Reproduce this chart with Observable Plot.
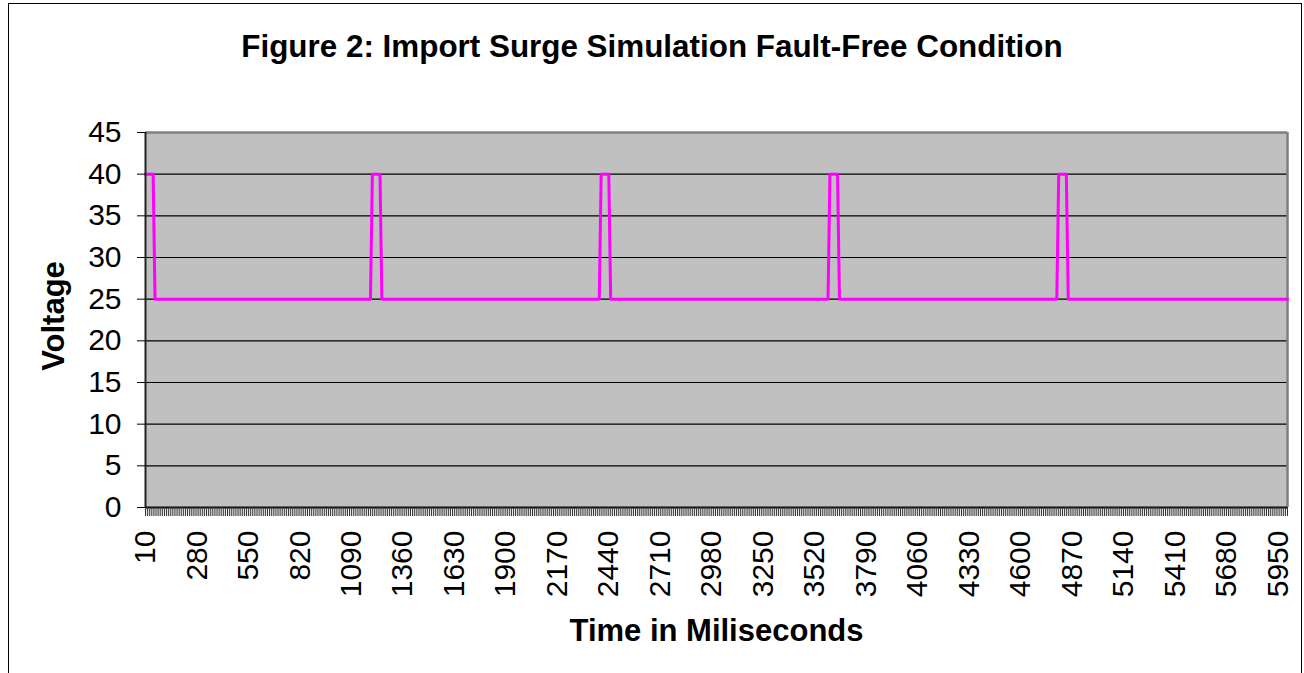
<!DOCTYPE html>
<html>
<head>
<meta charset="utf-8">
<script src="https://cdn.jsdelivr.net/npm/d3@7"></script>
<script src="https://cdn.jsdelivr.net/npm/@observablehq/plot@0.6"></script>
<style>
  html, body { margin: 0; padding: 0; background: #fff; overflow: hidden; width: 1304px; height: 673px; }
  body { position: relative; font-family: "Liberation Sans", Arial, sans-serif; }
  #frame { position: absolute; left: 8px; top: 3px; width: 1294px; height: 800px; box-sizing: border-box; border: 1.5px solid #000; }
  #title { position: absolute; left: 0; top: 29px; width: 1304px; text-align: center; font-weight: bold; font-size: 31.4px; line-height: 36px; color: #000; }
  #chart { position: absolute; left: 0; top: 90px; }
  #chart g[aria-label="x-axis label"] text { font-weight: bold; }
</style>
</head>
<body>
<div id="frame"></div>
<div id="title">Figure 2: Import Surge Simulation Fault-Free Condition</div>
<div id="chart"></div>
<script>
// Time categories (ms), one sample every 10 ms
const times = d3.range(10, 6010, 10);
// Voltage series: value and number of samples
const runValues  = [40, 25, 40, 25, 40, 25, 40, 25, 40, 25];
const runLengths = [5, 114, 5, 115, 5, 115, 5, 115, 5, 116];
// Axis ticks
const xTickLabels = [10, 280, 550, 820, 1090, 1360, 1630, 1900, 2170, 2440, 2710, 2980, 3250, 3520, 3790, 4060, 4330, 4600, 4870, 5140, 5410, 5680, 5950];
const yTicks = [0, 5, 10, 15, 20, 25, 30, 35, 40, 45];
const gridLines = [5, 10, 15, 20, 25, 30, 35, 40];

const voltages = runValues.flatMap((v, i) => Array(runLengths[i]).fill(v));
const data = times.map((t, i) => ({t, v: voltages[i]}));

const chart = Plot.plot({
  width: 1304,
  height: 583,
  marginLeft: 145,
  marginRight: 17,
  marginTop: 42,
  marginBottom: 166,
  style: {fontFamily: '"Liberation Sans", Arial, sans-serif', fontSize: "30px", color: "#000", background: "transparent", overflow: "visible"},
  x: {domain: [times[0], times[times.length - 1]]},
  y: {domain: [0, 45]},
  marks: [
    Plot.frame({fill: "#c0c0c0", stroke: null}),
    Plot.ruleY(gridLines, {stroke: "#000", strokeWidth: 1.2}),
    Plot.ruleY([45], {stroke: "#808080", strokeWidth: 2.5}),
    Plot.ruleX([times[times.length - 1]], {stroke: "#808080", strokeWidth: 2.5}),
    Plot.line(data, {x: "t", y: "v", stroke: "#ff00ff", strokeWidth: 3}),
    Plot.ruleX([times[0]], {stroke: "#222", strokeWidth: 2}),
    Plot.ruleY([0], {stroke: "#000", strokeWidth: 2}),
    Plot.axisY({ticks: yTicks, tickSize: 8, tickPadding: 16, tickFormat: d => String(d), label: null, fontSize: 30}),
    Plot.text(["Voltage"], {frameAnchor: "left", textAnchor: "middle", rotate: -90, dx: -91, dy: -4, fontSize: 31, fontWeight: "bold", fill: "#000", lineAnchor: "middle"}),
    Plot.axisX({ticks: times, tickSize: 9, tickFormat: () => "", label: null, stroke: "#333"}),
    Plot.axisX({ticks: xTickLabels, tickSize: 0, tickPadding: 23, tickRotate: -90, tickFormat: d => String(d),
      label: "Time in Miliseconds", labelAnchor: "center", labelOffset: 133, labelArrow: false, fontSize: 30})
  ]
});
document.getElementById("chart").appendChild(chart);
// x-axis label slightly larger than tick labels
chart.querySelectorAll('g[aria-label="x-axis label"] text').forEach(t => t.setAttribute("font-size", "31"));
</script>
</body>
</html>
